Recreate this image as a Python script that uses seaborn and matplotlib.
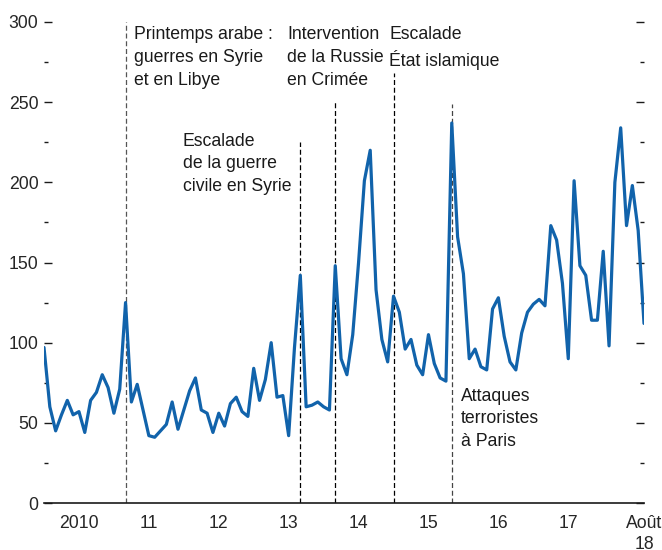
import numpy as np
import pandas as pd
import matplotlib
matplotlib.use("Agg")
import matplotlib.pyplot as plt
import seaborn as sns
from matplotlib.ticker import FixedLocator, NullFormatter

# ---- data (monthly, Jan 2010 .. Aug 2018) ----
values = [97, 60, 45, 55, 64, 55, 57, 44, 64, 69, 80, 72,
          56, 71, 125, 63, 74, 58, 42, 41, 45, 49, 63, 46,
          58, 70, 78, 58, 56, 44, 56, 48, 62, 66, 57, 54,
          84, 64, 77, 100, 66, 67, 42, 97, 142, 60, 61, 63,
          60, 58, 148, 90, 80, 105, 150, 201, 220, 133, 102, 88,
          129, 119, 96, 102, 86, 80, 105, 87, 78, 76, 237, 166,
          143, 90, 96, 85, 83, 121, 128, 104, 88, 83, 106, 119,
          124, 127, 123, 173, 164, 137, 90, 201, 148, 142, 114, 114,
          157, 98, 200, 234, 173, 198, 170, 112]
months = pd.date_range("2010-01-01", periods=len(values), freq="MS")
year_labels = ["2010", "11", "12", "13", "14", "15", "16", "17", "Août\n18"]

event_month = [14, 44, 50, 60, 70]
event_top = [300, 225, 251, 268, 249]
event_text = ["Printemps arabe :\nguerres en Syrie\net en Libye",
              "Escalade\nde la guerre\ncivile en Syrie",
              "Intervention\nde la Russie\nen Crimée",
              "Escalade\nÉtat islamique",
              "Attaques\nterroristes\nà Paris"]

df = pd.DataFrame({"idx": np.arange(len(values)), "value": values})

sns.set_style("white")
plt.rcParams["font.family"] = ["Liberation Sans", "DejaVu Sans"]
FS = 12.7

fig = plt.figure(figsize=(6.62, 5.5), dpi=100)
ax = fig.add_axes([44 / 662, 47 / 550, 600 / 662, 481 / 550])

sns.lineplot(data=df, x="idx", y="value", ax=ax, color="#1163ab", linewidth=2.3)

# event lines
colors = ["#555555", "black", "black", "black", "#444444"]
for m, top, c in zip(event_month, event_top, colors):
    ax.plot([m, m], [0, top], color=c, linewidth=0.9, linestyle=(0, (4, 2.2)), zorder=1)

# annotations (positions in data coords)
text_pos = [(15.5, 297.5), (23.8, 231), (41.8, 297.5), (59.3, 297.5), (71.6, 72)]
for (tx, ty), t in zip(text_pos, event_text):
    ax.text(tx, ty, t, fontsize=FS, va="top", ha="left", color="#1a1a1a",
            linespacing=1.45)

ax.set_xlim(0, len(values) - 1)
ax.set_ylim(0, 300)

# y axis
ax.set_yticks(np.arange(0, 301, 50))
ax.yaxis.set_minor_locator(FixedLocator(np.arange(25, 300, 50)))
ax.tick_params(axis="y", which="major", direction="in", length=6, width=1,
               left=True, right=True, labelsize=FS, pad=4, color="#1a1a1a")
ax.tick_params(axis="y", which="minor", direction="in", length=3, width=1,
               left=True, right=True, color="#1a1a1a")

# x axis: year boundaries as ticks, labels mid-year
year_starts = list(range(0, len(values), 12))
ax.xaxis.set_major_locator(FixedLocator(year_starts))
ax.xaxis.set_major_formatter(NullFormatter())
label_pos = [s + 6 for s in year_starts[:-1]] + [len(values) - 1]
ax.xaxis.set_minor_locator(FixedLocator(label_pos))
ax.set_xticks(label_pos, labels=year_labels, minor=True)
ax.tick_params(axis="x", which="major", direction="in", length=7, width=1, color="#1a1a1a")
ax.tick_params(axis="x", which="minor", length=0, labelsize=FS, pad=9)
for lab in ax.get_xticklabels(minor=True):
    lab.set_linespacing(1.3)

for s in ["top", "left", "right"]:
    ax.spines[s].set_visible(False)
ax.spines["bottom"].set_color("#1a1a1a")
ax.spines["bottom"].set_linewidth(1.2)
ax.set_xlabel("")
ax.set_ylabel("")

fig.savefig("out.png", dpi=100)
